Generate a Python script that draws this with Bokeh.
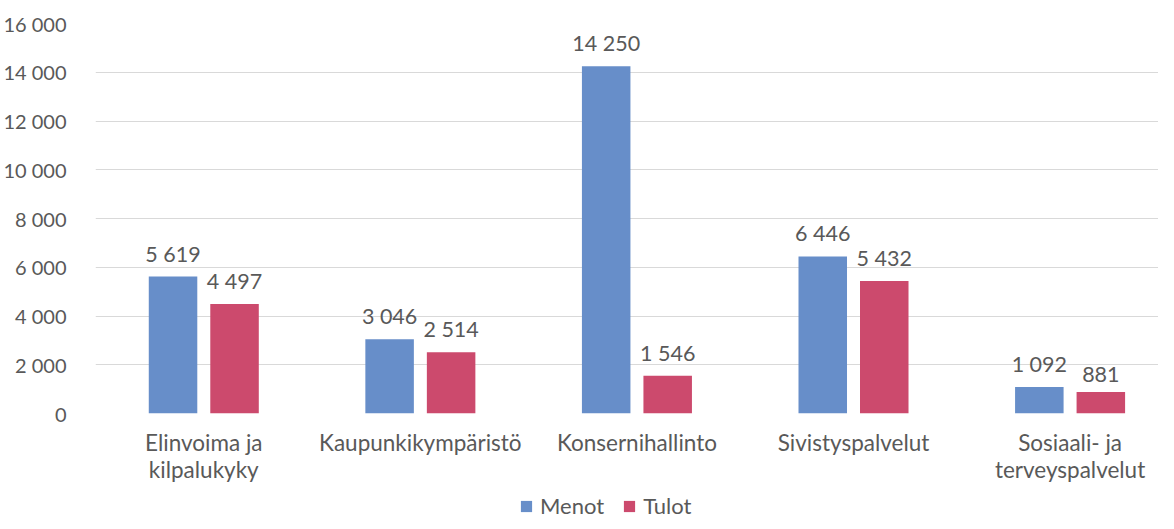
import numpy as np
from bokeh.plotting import figure
from bokeh.layouts import column
from bokeh.models import ColumnDataSource, FixedTicker, Legend, LegendItem, Range1d
from bokeh.embed import file_html
from bokeh.resources import INLINE
from bokeh.core.properties import value

categories = ["Elinvoima ja\nkilpalukyky", "Kaupunkikympäristö", "Konsernihallinto",
              "Sivistyspalvelut", "Sosiaali- ja\nterveyspalvelut"]
menot = [5619, 3046, 14250, 6446, 1092]
tulot = [4497, 2514, 1546, 5432, 881]
series_names = ["Menot", "Tulot"]
y_ticks = [0, 2000, 4000, 6000, 8000, 10000, 12000, 14000, 16000]
y_tick_labels = ["0", "2 000", "4 000", "6 000", "8 000", "10 000", "12 000", "14 000", "16 000"]

BLUE = "#678ec9"
RED = "#cc4a6d"
TXT = "#595959"
FONT = "Lato"

def fmt(v):
    return f"{v:,}".replace(",", " ")

xc = np.arange(len(categories)) + 0.5
off = 0.142
bw = 0.224

src_m = ColumnDataSource(dict(x=xc - off, top=menot, lab=[fmt(v) for v in menot]))
src_t = ColumnDataSource(dict(x=xc + off, top=tulot, lab=[fmt(v) for v in tulot]))

p = figure(width=1158, height=490, output_backend="svg", toolbar_location=None,
           x_range=Range1d(0, 1070 / 218), y_range=Range1d(0, 16000),
           min_border_left=88, min_border_right=0, min_border_top=23, min_border_bottom=77)
p.outline_line_color = None
p.background_fill_color = "white"
p.border_fill_color = "white"

r1 = p.vbar(x="x", top="top", width=bw, source=src_m, fill_color=BLUE, line_color=None)
r2 = p.vbar(x="x", top="top", width=bw, source=src_t, fill_color=RED, line_color=None)

for s in (src_m, src_t):
    p.text(x="x", y="top", text="lab", source=s, text_align="center", text_baseline="bottom",
           y_offset=-10, text_font=value(FONT), text_font_size="21.5px", text_color=TXT)

# axes
p.yaxis.ticker = FixedTicker(ticks=y_ticks)
p.yaxis.major_label_overrides = {t: l for t, l in zip(y_ticks, y_tick_labels)}
p.yaxis.axis_line_color = None
p.yaxis.major_tick_line_color = None
p.yaxis.minor_tick_line_color = None
p.yaxis.major_label_standoff = 23
p.yaxis.major_label_text_font = FONT
p.yaxis.major_label_text_font_size = "20px"
p.yaxis.major_label_text_color = TXT

p.xaxis.ticker = FixedTicker(ticks=list(xc))
p.xaxis.major_label_overrides = {float(x): c for x, c in zip(xc, categories)}
p.xaxis.axis_line_color = None
p.xaxis.major_tick_line_color = None
p.xaxis.minor_tick_line_color = None
p.xaxis.major_label_standoff = 9
p.xaxis.major_label_text_font = FONT
p.xaxis.major_label_text_font_size = "22.5px"
p.xaxis.major_label_text_color = TXT
p.xaxis.major_label_text_line_height = 1.0

p.xgrid.grid_line_color = None
p.ygrid.ticker = FixedTicker(ticks=y_ticks)
p.ygrid.grid_line_color = "#d9d9d9"
p.ygrid.grid_line_width = 1

# legend strip below the chart (frames are aligned with the chart above)
q = figure(width=1158, height=30, output_backend="svg", toolbar_location=None,
           x_range=Range1d(0, 1), y_range=Range1d(0, 1),
           min_border_left=0, min_border_right=0, min_border_top=0, min_border_bottom=0)
q.axis.visible = False
q.grid.grid_line_color = None
q.outline_line_color = None
d1 = q.vbar(x=[-5], top=[0], width=0.1, fill_color=BLUE, line_color=None)
d2 = q.vbar(x=[-5], top=[0], width=0.1, fill_color=RED, line_color=None)
legend = Legend(items=[LegendItem(label=series_names[0], renderers=[d1]),
                       LegendItem(label=series_names[1], renderers=[d2])],
                orientation="horizontal", location=(424, 1),
                label_text_font=FONT, label_text_font_size="22px", label_text_color=TXT,
                glyph_width=14, glyph_height=14, label_standoff=7, spacing=18,
                padding=0, margin=0, border_line_color=None, background_fill_alpha=0)
q.add_layout(legend, "center")

layout = column(p, q, spacing=0)
open("out.html", "w").write(file_html(layout, INLINE))
